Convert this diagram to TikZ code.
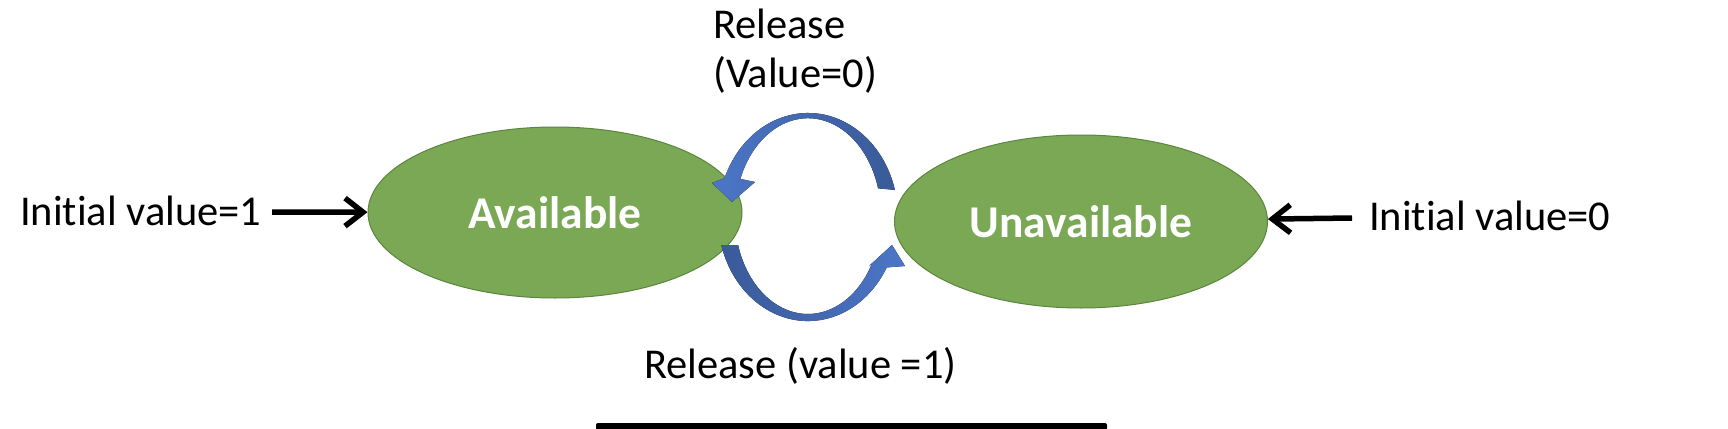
\documentclass[tikz,border=0pt]{standalone}
\usepackage{fontspec}
\setmainfont{Carlito}[Ligatures=NoCommon]
\usetikzlibrary{arrows.meta,shapes.geometric}
\definecolor{stategreen}{RGB}{122,168,84}
\definecolor{stateedge}{RGB}{92,134,62}
\definecolor{bluelight}{RGB}{76,118,200}
\definecolor{bluedark}{RGB}{58,90,152}
\begin{document}
\begin{tikzpicture}[x=1pt,y=1pt,
  state/.style={ellipse, draw=stateedge, line width=1pt, fill=stategreen, inner sep=0pt,
    text=white, font=\fontsize{45.5}{50}\selectfont\bfseries},
  lbl/.style={inner sep=0pt, font=\fontsize{42.5}{50}\selectfont, text=black},
  feed/.style={line width=5.5pt, -{Straight Barb[length=18pt,width=28pt,line width=5.5pt]}}
]
\useasboundingbox (0,0) rectangle (1728,-428);
% states
\node[state, minimum width=374pt, minimum height=171pt] (av) at (555,-212.5) {Available};
\node[state, minimum width=373pt, minimum height=173pt] (un) at (1081,-221.5) {Unavailable};
% labels
\node[lbl, anchor=base west] (i1) at (20,-225) {Initial value=1};
\node[lbl, anchor=base west] (i0) at (1369,-230) {Initial value=0};
\node[lbl, anchor=base west, align=left] (r0) at (713,-88) {Release\\(Value=0)};
\node[lbl, anchor=base west] (r1) at (644,-378) {Release (value =1)};
% initial arrows
\coordinate (s1) at (272,-212);
\draw[feed] (s1) -- (av);
\coordinate (s0) at (1352,-218);
\draw[feed] (s0) -- (un);
% circular arrows
\fill[left color=bluelight, right color=bluedark]
  (894.9,-189.9) arc[start angle=15.1, end angle=158, x radius=90, y radius=104]
  -- (712,-183) -- (732,-202) -- (755,-182) -- (740.3,-178.9)
  arc[start angle=158, end angle=16.1, x radius=73, y radius=97] -- cycle;
\fill[left color=bluedark, right color=bluelight]
  (721.3,-245) arc[start angle=195.6, end angle=331, x radius=90, y radius=104]
  -- (905,-266) -- (892,-245) -- (869,-266) -- (871.8,-264)
  arc[start angle=331, end angle=196.8, x radius=73, y radius=97] -- cycle;
% bottom bar
\fill[black, rounded corners=2pt] (596,-423) rectangle (1107,-430);
\end{tikzpicture}
\end{document}
